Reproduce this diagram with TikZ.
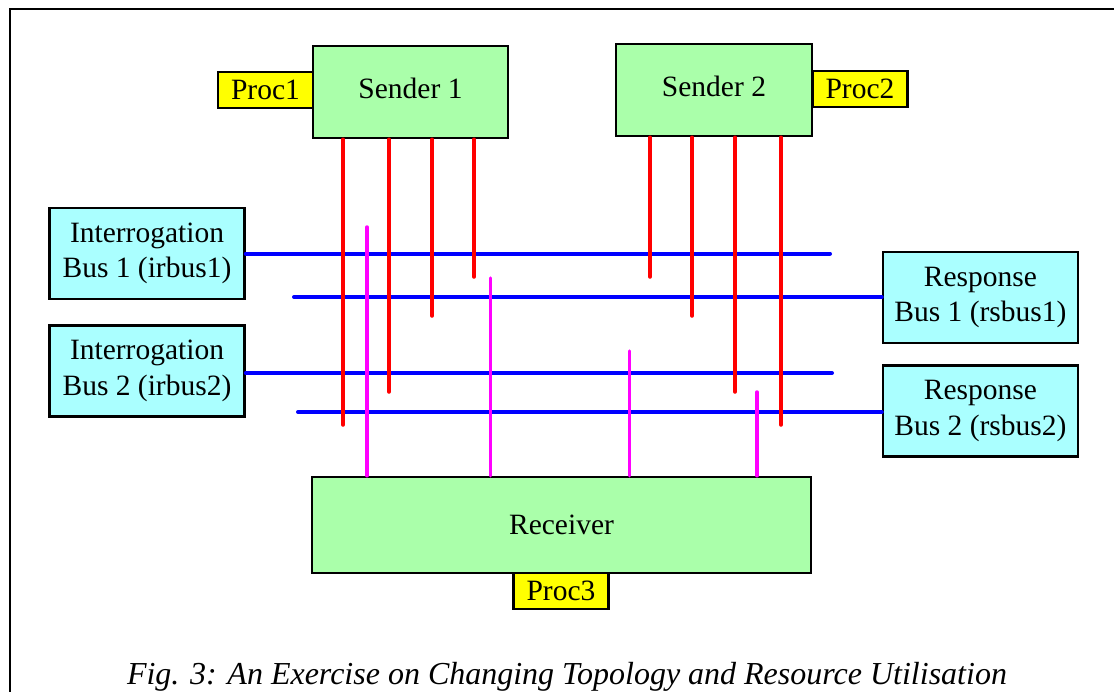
\documentclass[tikz,border=0pt]{standalone}
\usepackage{fontspec}
\setmainfont{Liberation Serif}
\definecolor{boxgreen}{HTML}{AAFFAA}
\definecolor{boxcyan}{HTML}{AAFFFF}
\definecolor{procyellow}{HTML}{FFFF00}
\definecolor{linered}{HTML}{FF0000}
\definecolor{lineblue}{HTML}{0000FF}
\definecolor{linemag}{HTML}{FF00FF}
\begin{document}
\begin{tikzpicture}[x=1pt,y=-1pt,
  every node/.style={font=\fontsize{29.5}{35.7}\selectfont, inner sep=0pt, align=center},
  basebox/.style={draw=black, line width=2.5pt, rectangle},
  sendbox/.style={basebox, fill=boxgreen},
  busbox/.style={basebox, fill=boxcyan, minimum width=195pt, minimum height=91pt},
  procbox/.style={basebox, fill=procyellow, minimum width=95pt, minimum height=36pt},
  redline/.style={draw=linered, line width=3.5pt, line cap=round},
  blueline/.style={draw=lineblue, line width=4pt, line cap=round},
  magline/.style={draw=linemag, line width=3.5pt, line cap=round},
  frameline/.style={draw=black, line width=2.5pt}
]
\useasboundingbox (0,0) rectangle (1114,691);
\draw[frameline] (10,700) -- (10,9) -- (1120,9);

% senders and procs
\node[sendbox, minimum width=195pt, minimum height=92pt] (s1) at (410.5,92) {Sender 1\rule[-8pt]{0pt}{1pt}};
\node[sendbox, minimum width=196pt, minimum height=92pt] (s2) at (714,90) {Sender 2\rule[-8pt]{0pt}{1pt}};
\node[procbox] (p1) at (265.5,90) {Proc1};
\node[procbox] (p2) at (860,89) {Proc2};

% buses
\node[busbox] (ib1) at (147,253.5) {Interrogation\\Bus 1 (irbus1)};
\node[busbox] (ib2) at (147,371) {Interrogation\\Bus 2 (irbus2)};
\node[busbox] (rb1) at (980.5,297.5) {Response\\Bus 1 (rsbus1)};
\node[busbox] (rb2) at (980.5,411) {Response\\Bus 2 (rsbus2)};

% receiver
\node[sendbox, minimum width=499pt, minimum height=96pt] (rec) at (561.5,525) {Receiver};
\node[procbox] (p3) at (561,591) {Proc3};

% bus line free ends
\coordinate (ib1end) at (830,253.5);
\coordinate (rb1end) at (294,297);
\coordinate (ib2end) at (832,373);
\coordinate (rb2end) at (298,412);

\draw[blueline] (ib1.east |- ib1end) -- (ib1end);
\draw[blueline] (rb1end) -- (rb1.west |- rb1end);
\draw[blueline] (ib2.east |- ib2end) -- (ib2end);
\draw[blueline] (rb2end) -- (rb2.west |- rb2end);

% red sender lines
\coordinate (ra1) at (343,425);
\coordinate (ra2) at (389,392);
\coordinate (ra3) at (432,316);
\coordinate (ra4) at (474,277);
\coordinate (rb1e) at (650,277);
\coordinate (rb2e) at (692,316);
\coordinate (rb3e) at (735,392);
\coordinate (rb4e) at (781,425);
\foreach \c in {ra1,ra2,ra3,ra4}{\draw[redline] (\c |- s1.south) -- (\c);}
\foreach \c in {rb1e,rb2e,rb3e,rb4e}{\draw[redline] (\c |- s2.south) -- (\c);}

% magenta receiver lines
\coordinate (m1) at (367,227);
\coordinate (m2) at (490.5,278);
\coordinate (m3) at (629.5,351);
\coordinate (m4) at (757,392);
\foreach \c in {m1,m2,m3,m4}{\draw[magline] (\c) -- (\c |- rec.north);}

% caption
\node[anchor=base, font=\fontsize{32}{38}\selectfont\itshape] (cap) at (567,684) {Fig. 3: An Exercise on Changing Topology and Resource Utilisation};
\end{tikzpicture}
\end{document}
